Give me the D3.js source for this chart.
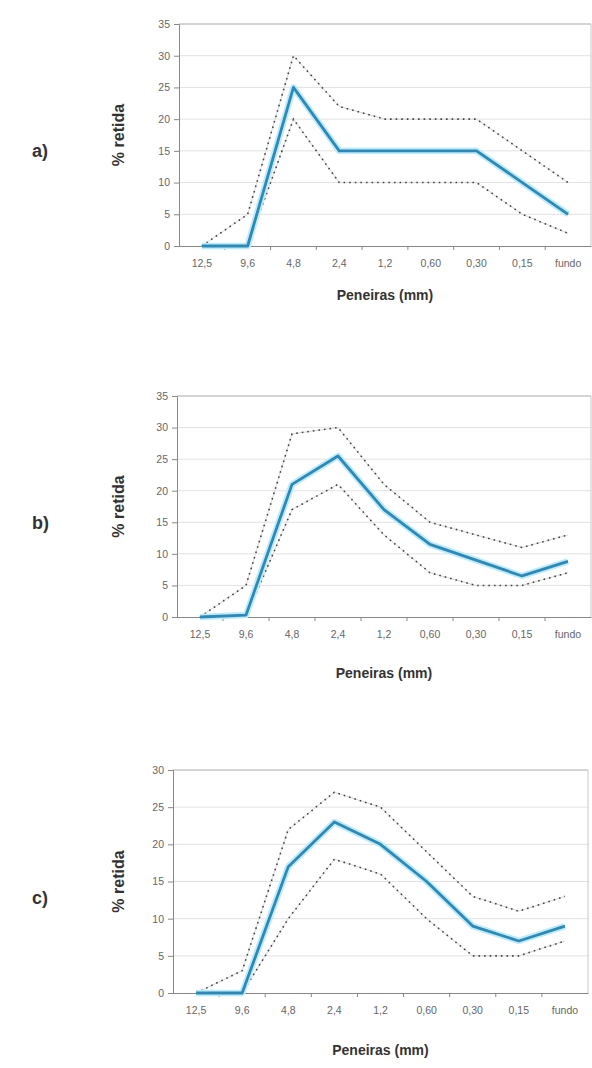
<!DOCTYPE html>
<meta charset="utf-8">
<style>
    body { margin: 0; background: #fff; }
    text { font-family: "Liberation Sans", Arial, sans-serif; }
</style>
<svg width="592" height="1068"></svg>

<script src="https://d3js.org/d3.v7.min.js"></script>
<script>
    // peneiras (mm)
    var categories = ["12,5", "9,6", "4,8", "2,4", "1,2", "0,60", "0,30", "0,15", "fundo"];

    // a)
    var aMain  = [0, 0, 25, 15, 15, 15, 15, 10, 5];
    var aUpper = [0, 5, 30, 22, 20, 20, 20, 15, 10];
    var aLower = [0, 0, 20, 10, 10, 10, 10, 5, 2];
    // b)
    var bMain  = [0, 0.3, 21, 25.5, 17, 11.5, 9, 6.5, 8.8];
    var bUpper = [0, 5, 29, 30, 21, 15, 13, 11, 13];
    var bLower = [0, 0, 17, 21, 13, 7, 5, 5, 7];
    // c)
    var cMain  = [0, 0, 17, 23, 20, 15, 9, 7, 9];
    var cUpper = [0, 3, 22, 27, 25, 19, 13, 11, 13];
    var cLower = [0, 0, 10, 18, 16, 10, 5, 5, 7];

    var yTicksA = [0, 5, 10, 15, 20, 25, 30, 35];
    var yTicksC = [0, 5, 10, 15, 20, 25, 30];

    var panels = [
        {label: "a)", main: aMain, upper: aUpper, lower: aLower, ticks: yTicksA,
         left: 179, right: 591, top: 24, bottom: 246, titleY: 300},
        {label: "b)", main: bMain, upper: bUpper, lower: bLower, ticks: yTicksA,
         left: 177, right: 591, top: 396, bottom: 617, titleY: 678},
        {label: "c)", main: cMain, upper: cUpper, lower: cLower, ticks: yTicksC,
         left: 173, right: 588, top: 770, bottom: 993, titleY: 1055}
    ];

    var svg = d3.select("svg");

    panels.forEach(function (p) {
        var g = svg.append("g");

        var x = d3.scaleBand()
            .domain(categories)
            .range([p.left, p.right]);
        var y = d3.scaleLinear()
            .domain([0, d3.max(p.ticks)])
            .range([p.bottom, p.top]);

        // grid lines
        g.selectAll(".grid")
            .data(p.ticks.slice(1))
            .enter()
            .append("line")
            .attr("x1", p.left)
            .attr("x2", p.right)
            .attr("y1", function (d) { return y(d); })
            .attr("y2", function (d) { return y(d); })
            .attr("stroke", function (d, i) { return i === p.ticks.length - 2 ? "#aaa" : "#e2e2e2"; })
            .attr("stroke-width", 1);

        // right border
        g.append("line")
            .attr("x1", p.right).attr("x2", p.right)
            .attr("y1", p.top).attr("y2", p.bottom)
            .attr("stroke", "#c8c8c8");

        // y axis
        var yAxis = g.append("g")
            .attr("transform", "translate(" + p.left + ",0)")
            .call(d3.axisLeft(y).tickValues(p.ticks).tickSize(5).tickPadding(4));
        yAxis.select(".domain").attr("stroke", "#888");
        yAxis.selectAll(".tick line").attr("stroke", "#888");
        yAxis.selectAll("text").attr("fill", "#666").attr("font-size", 10.5);

        // x axis (ticks between categories)
        var xAxis = g.append("g")
            .attr("transform", "translate(0," + p.bottom + ")")
            .call(d3.axisBottom(x).tickSize(0).tickPadding(14));
        xAxis.select(".domain").attr("stroke", "#888");
        xAxis.selectAll("text").attr("fill", "#666").attr("font-size", 10.5);
        g.selectAll(".xtick")
            .data(categories.slice(1))
            .enter()
            .append("line")
            .attr("x1", function (d) { return x(d); })
            .attr("x2", function (d) { return x(d); })
            .attr("y1", p.bottom)
            .attr("y2", p.bottom + 4)
            .attr("stroke", "#888");

        var line = d3.line()
            .x(function (d, i) { return x(categories[i]) + x.bandwidth() / 2; })
            .y(function (d) { return y(d); });

        // limit curves
        [p.upper, p.lower].forEach(function (s) {
            g.append("path")
                .datum(s)
                .attr("d", line)
                .attr("fill", "none")
                .attr("stroke", "#d8d8d8")
                .attr("stroke-width", 1);
            g.append("path")
                .datum(s)
                .attr("d", line)
                .attr("fill", "none")
                .attr("stroke", "#444")
                .attr("stroke-width", 1.6)
                .attr("stroke-dasharray", "1.6,4");
        });

        // main curve with soft glow
        g.append("path")
            .datum(p.main)
            .attr("d", line)
            .attr("fill", "none")
            .attr("stroke", "#bfeaf8")
            .attr("stroke-width", 6.5)
            .attr("stroke-linejoin", "round");
        g.append("path")
            .datum(p.main)
            .attr("d", line)
            .attr("fill", "none")
            .attr("stroke", "#2b8ab8")
            .attr("stroke-width", 2.8)
            .attr("stroke-linejoin", "round");

        // titles
        var midY = (p.top + p.bottom) / 2;
        g.append("text")
            .attr("transform", "translate(124," + midY + ") rotate(-90)")
            .attr("text-anchor", "middle")
            .attr("font-size", 16)
            .attr("font-weight", "bold")
            .attr("fill", "#333")
            .text("% retida");

        g.append("text")
            .attr("x", (p.left + p.right) / 2)
            .attr("y", p.titleY)
            .attr("text-anchor", "middle")
            .attr("font-size", 14)
            .attr("font-weight", "bold")
            .attr("fill", "#333")
            .text("Peneiras (mm)");

        g.append("text")
            .attr("x", 32)
            .attr("y", midY + 22)
            .attr("font-size", 18)
            .attr("font-weight", "bold")
            .attr("fill", "#333")
            .text(p.label);
    });
</script>
